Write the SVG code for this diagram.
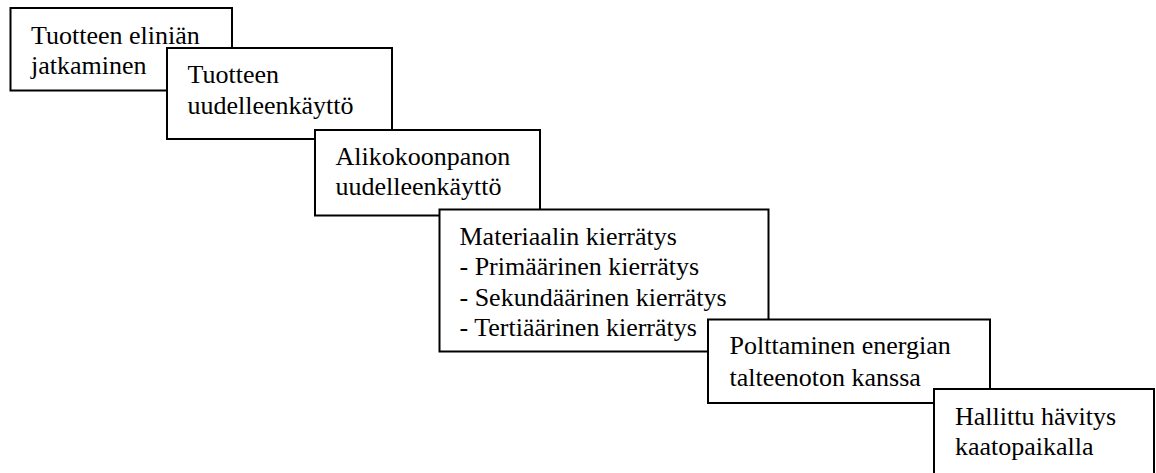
<svg xmlns="http://www.w3.org/2000/svg" width="1156" height="473" viewBox="0 0 1156 473">
<style>
.box{fill:#fff;stroke:#000;stroke-width:2}
.t{font-family:'Liberation Serif','DejaVu Serif',serif;font-size:26px;fill:#000}
</style>
<rect width="1156" height="473" fill="#fff"/>
<g id="connectors"/>
<g id="node1">
<rect class="box" x="10.5" y="8" width="221.5" height="82.5"/>
<text class="t" x="31" y="43.5">Tuotteen eliniän</text>
<text class="t" x="31" y="73.5">jatkaminen</text>
</g>
<g id="node2">
<rect class="box" x="167" y="48" width="225" height="91"/>
<text class="t" x="187.5" y="82.5">Tuotteen</text>
<text class="t" x="187.5" y="113.5">uudelleenkäyttö</text>
</g>
<g id="node3">
<rect class="box" x="315" y="130" width="225" height="85.5"/>
<text class="t" x="335.5" y="164.5">Alikokoonpanon</text>
<text class="t" x="335.5" y="195">uudelleenkäyttö</text>
</g>
<g id="node4">
<rect class="box" x="439.5" y="209.5" width="329" height="142"/>
<text class="t" x="459.5" y="244.5">Materiaalin kierrätys</text>
<text class="t" x="459.5" y="275">- Primäärinen kierrätys</text>
<text class="t" x="459.5" y="305.5">- Sekundäärinen kierrätys</text>
<text class="t" x="459.5" y="335.5">- Tertiäärinen kierrätys</text>
</g>
<g id="node5">
<rect class="box" x="708" y="319.5" width="282" height="83.5"/>
<text class="t" x="729.5" y="354">Polttaminen energian</text>
<text class="t" x="729.5" y="386">talteenoton kanssa</text>
</g>
<g id="node6">
<rect class="box" x="934" y="389" width="220" height="100"/>
<text class="t" x="955" y="424.5">Hallittu hävitys</text>
<text class="t" x="955" y="454.5">kaatopaikalla</text>
</g>
</svg>
